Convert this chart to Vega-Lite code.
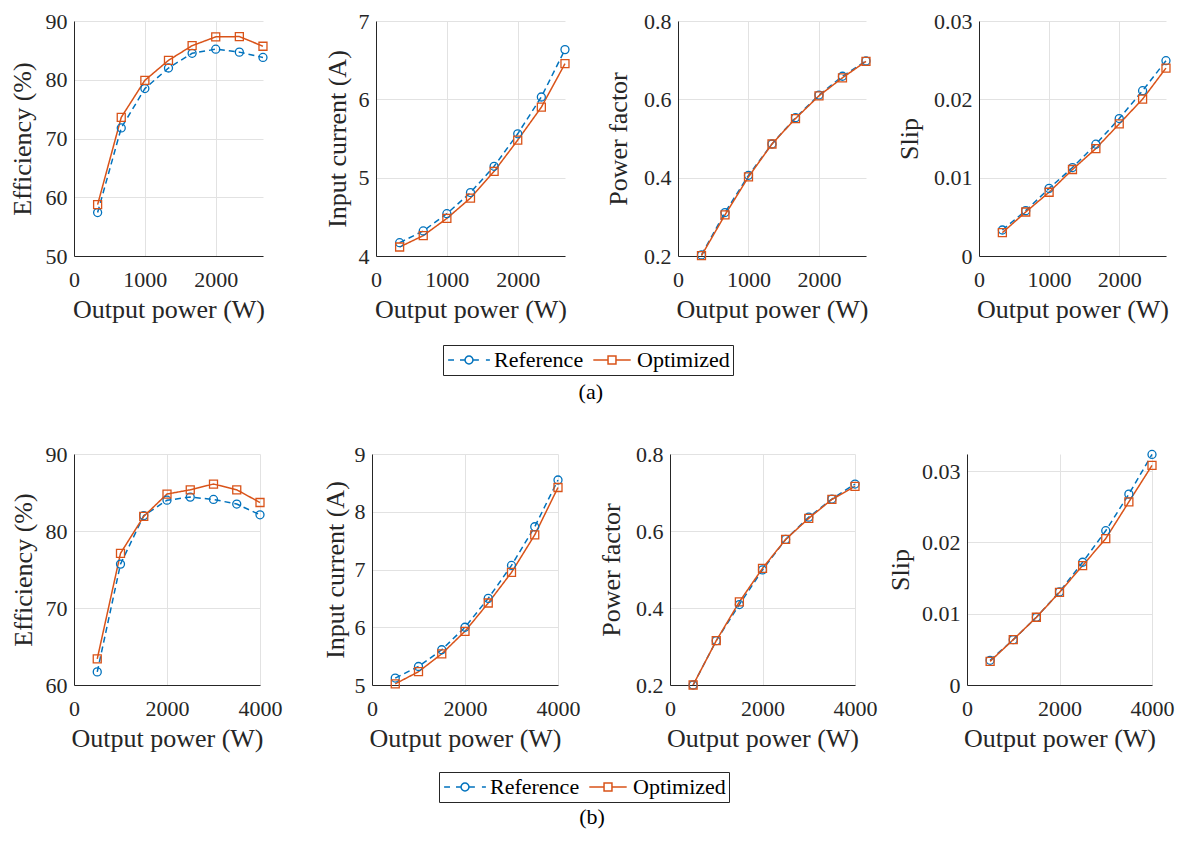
{
"$schema":"https://vega.github.io/schema/vega-lite/v6.json",
"padding":{"left":9,"top":10,"right":4,"bottom":4},
"background":"white",
"datasets":{
"eff_a":[{"P":333.3,"v":57.4,"s":"Reference"},{"P":666.7,"v":71.8,"s":"Reference"},{"P":1000,"v":78.5,"s":"Reference"},{"P":1333.3,"v":82.0,"s":"Reference"},{"P":1666.7,"v":84.5,"s":"Reference"},{"P":2000,"v":85.2,"s":"Reference"},{"P":2333.3,"v":84.7,"s":"Reference"},{"P":2666.7,"v":83.8,"s":"Reference"},
{"P":333.3,"v":58.75,"s":"Optimized"},{"P":666.7,"v":73.6,"s":"Optimized"},{"P":1000,"v":79.9,"s":"Optimized"},{"P":1333.3,"v":83.3,"s":"Optimized"},{"P":1666.7,"v":85.8,"s":"Optimized"},{"P":2000,"v":87.3,"s":"Optimized"},{"P":2333.3,"v":87.35,"s":"Optimized"},{"P":2666.7,"v":85.7,"s":"Optimized"}],
"cur_a":[{"P":333.3,"v":4.17,"s":"Reference"},{"P":666.7,"v":4.32,"s":"Reference"},{"P":1000,"v":4.54,"s":"Reference"},{"P":1333.3,"v":4.81,"s":"Reference"},{"P":1666.7,"v":5.145,"s":"Reference"},{"P":2000,"v":5.56,"s":"Reference"},{"P":2333.3,"v":6.03,"s":"Reference"},{"P":2666.7,"v":6.635,"s":"Reference"},
{"P":333.3,"v":4.115,"s":"Optimized"},{"P":666.7,"v":4.26,"s":"Optimized"},{"P":1000,"v":4.48,"s":"Optimized"},{"P":1333.3,"v":4.74,"s":"Optimized"},{"P":1666.7,"v":5.08,"s":"Optimized"},{"P":2000,"v":5.48,"s":"Optimized"},{"P":2333.3,"v":5.90,"s":"Optimized"},{"P":2666.7,"v":6.455,"s":"Optimized"}],
"pf_a":[{"P":333.3,"v":0.2026,"s":"Reference"},{"P":666.7,"v":0.311,"s":"Reference"},{"P":1000,"v":0.406,"s":"Reference"},{"P":1333.3,"v":0.486,"s":"Reference"},{"P":1666.7,"v":0.553,"s":"Reference"},{"P":2000,"v":0.611,"s":"Reference"},{"P":2333.3,"v":0.659,"s":"Reference"},{"P":2666.7,"v":0.698,"s":"Reference"},
{"P":333.3,"v":0.201,"s":"Optimized"},{"P":666.7,"v":0.305,"s":"Optimized"},{"P":1000,"v":0.402,"s":"Optimized"},{"P":1333.3,"v":0.486,"s":"Optimized"},{"P":1666.7,"v":0.551,"s":"Optimized"},{"P":2000,"v":0.609,"s":"Optimized"},{"P":2333.3,"v":0.655,"s":"Optimized"},{"P":2666.7,"v":0.697,"s":"Optimized"}],
"slip_a":[{"P":333.3,"v":0.00332,"s":"Reference"},{"P":666.7,"v":0.00579,"s":"Reference"},{"P":1000,"v":0.00863,"s":"Reference"},{"P":1333.3,"v":0.01129,"s":"Reference"},{"P":1666.7,"v":0.01427,"s":"Reference"},{"P":2000,"v":0.01755,"s":"Reference"},{"P":2333.3,"v":0.0211,"s":"Reference"},{"P":2666.7,"v":0.02493,"s":"Reference"},
{"P":333.3,"v":0.00298,"s":"Optimized"},{"P":666.7,"v":0.00562,"s":"Optimized"},{"P":1000,"v":0.00814,"s":"Optimized"},{"P":1333.3,"v":0.01104,"s":"Optimized"},{"P":1666.7,"v":0.01372,"s":"Optimized"},{"P":2000,"v":0.01687,"s":"Optimized"},{"P":2333.3,"v":0.02003,"s":"Optimized"},{"P":2666.7,"v":0.02399,"s":"Optimized"}],
"eff_b":[{"P":500,"v":61.7,"s":"Reference"},{"P":1000,"v":75.7,"s":"Reference"},{"P":1500,"v":82.0,"s":"Reference"},{"P":2000,"v":84.0,"s":"Reference"},{"P":2500,"v":84.4,"s":"Reference"},{"P":3000,"v":84.1,"s":"Reference"},{"P":3500,"v":83.5,"s":"Reference"},{"P":4000,"v":82.1,"s":"Reference"},
{"P":500,"v":63.4,"s":"Optimized"},{"P":1000,"v":77.1,"s":"Optimized"},{"P":1500,"v":81.9,"s":"Optimized"},{"P":2000,"v":84.8,"s":"Optimized"},{"P":2500,"v":85.35,"s":"Optimized"},{"P":3000,"v":86.1,"s":"Optimized"},{"P":3500,"v":85.35,"s":"Optimized"},{"P":4000,"v":83.7,"s":"Optimized"}],
"cur_b":[{"P":500,"v":5.12,"s":"Reference"},{"P":1000,"v":5.32,"s":"Reference"},{"P":1500,"v":5.61,"s":"Reference"},{"P":2000,"v":6.0,"s":"Reference"},{"P":2500,"v":6.5,"s":"Reference"},{"P":3000,"v":7.07,"s":"Reference"},{"P":3500,"v":7.74,"s":"Reference"},{"P":4000,"v":8.55,"s":"Reference"},
{"P":500,"v":5.02,"s":"Optimized"},{"P":1000,"v":5.23,"s":"Optimized"},{"P":1500,"v":5.54,"s":"Optimized"},{"P":2000,"v":5.93,"s":"Optimized"},{"P":2500,"v":6.42,"s":"Optimized"},{"P":3000,"v":6.95,"s":"Optimized"},{"P":3500,"v":7.6,"s":"Optimized"},{"P":4000,"v":8.42,"s":"Optimized"}],
"pf_b":[{"P":500,"v":0.2,"s":"Reference"},{"P":1000,"v":0.315,"s":"Reference"},{"P":1500,"v":0.409,"s":"Reference"},{"P":2000,"v":0.499,"s":"Reference"},{"P":2500,"v":0.578,"s":"Reference"},{"P":3000,"v":0.636,"s":"Reference"},{"P":3500,"v":0.683,"s":"Reference"},{"P":4000,"v":0.722,"s":"Reference"},
{"P":500,"v":0.2,"s":"Optimized"},{"P":1000,"v":0.315,"s":"Optimized"},{"P":1500,"v":0.416,"s":"Optimized"},{"P":2000,"v":0.503,"s":"Optimized"},{"P":2500,"v":0.578,"s":"Optimized"},{"P":3000,"v":0.633,"s":"Optimized"},{"P":3500,"v":0.682,"s":"Optimized"},{"P":4000,"v":0.716,"s":"Optimized"}],
"slip_b":[{"P":500,"v":0.00346,"s":"Reference"},{"P":1000,"v":0.00636,"s":"Reference"},{"P":1500,"v":0.00949,"s":"Reference"},{"P":2000,"v":0.01306,"s":"Reference"},{"P":2500,"v":0.01722,"s":"Reference"},{"P":3000,"v":0.02164,"s":"Reference"},{"P":3500,"v":0.02677,"s":"Reference"},{"P":4000,"v":0.03234,"s":"Reference"},
{"P":500,"v":0.00332,"s":"Optimized"},{"P":1000,"v":0.00636,"s":"Optimized"},{"P":1500,"v":0.0095,"s":"Optimized"},{"P":2000,"v":0.0130,"s":"Optimized"},{"P":2500,"v":0.01675,"s":"Optimized"},{"P":3000,"v":0.02054,"s":"Optimized"},{"P":3500,"v":0.02569,"s":"Optimized"},{"P":4000,"v":0.0308,"s":"Optimized"}]
},
"vconcat":[
{"hconcat":[
 {"width":189,"height":235,"data":{"name":"eff_a"},
  "encoding":{"x":{"field":"P","type":"quantitative","scale":{"domain":[0,2667],"nice":false,"zero":false},"axis":{"values":[0,1000,2000],"format":"d","title":"Output power (W)"}},
   "y":{"field":"v","type":"quantitative","scale":{"domain":[50,90],"nice":false,"zero":false},"axis":{"values":[50,60,70,80,90],"format":"~f","title":"Efficiency (%)","titlePadding":10}},
   "color":{"field":"s","type":"nominal","scale":{"domain":["Reference","Optimized"],"range":["#0072BD","#D95319"]},"legend":null}},
  "layer":[
   {"mark":{"type":"line","strokeWidth":1.5},"encoding":{"strokeDash":{"field":"s","type":"nominal","scale":{"domain":["Reference","Optimized"],"range":[[6,4],[1,0]]},"legend":null}}},
   {"mark":{"type":"point","filled":false,"size":64,"strokeWidth":1.3,"opacity":1},"encoding":{"shape":{"field":"s","type":"nominal","scale":{"domain":["Reference","Optimized"],"range":["circle","square"]},"legend":null}}}]},
 {"width":189,"height":235,"data":{"name":"cur_a"},
  "encoding":{"x":{"field":"P","type":"quantitative","scale":{"domain":[0,2667],"nice":false,"zero":false},"axis":{"values":[0,1000,2000],"format":"d","title":"Output power (W)"}},
   "y":{"field":"v","type":"quantitative","scale":{"domain":[4,7],"nice":false,"zero":false},"axis":{"values":[4,5,6,7],"format":"~f","title":"Input current (A)","titlePadding":8}},
   "color":{"field":"s","type":"nominal","scale":{"domain":["Reference","Optimized"],"range":["#0072BD","#D95319"]},
    "legend":{"orient":"none","legendX":67,"legendY":324,"direction":"horizontal","title":null,"strokeColor":"#262626","fillColor":"white","padding":3,
     "labelFontSize":22,"labelColor":"black","labelFont":"Liberation Serif","symbolSize":1936,"symbolStrokeWidth":1.5,"clipHeight":24,"labelOffset":2,"columnPadding":5,
     "encode":{"symbols":{"update":{"shape":[{"test":"datum.value === 'Reference'","value":"M-0.95,0L-0.68,0M-0.41,0L-0.18,0M0.18,0A0.18,0.18 0 1,1 -0.18,0A0.18,0.18 0 1,1 0.18,0M0.18,0L0.45,0M0.77,0L0.95,0"},{"value":"M-0.85,0L-0.18,0M0.18,0L0.85,0M-0.18,-0.18L0.18,-0.18L0.18,0.18L-0.18,0.18Z"}],"fill":{"value":"transparent"},"strokeDash":{"value":[]}}}}}}},
  "layer":[
   {"mark":{"type":"line","strokeWidth":1.5},"encoding":{"strokeDash":{"field":"s","type":"nominal","scale":{"domain":["Reference","Optimized"],"range":[[6,4],[1,0]]},"legend":null}}},
   {"mark":{"type":"point","filled":false,"size":64,"strokeWidth":1.3,"opacity":1},"encoding":{"shape":{"field":"s","type":"nominal","scale":{"domain":["Reference","Optimized"],"range":["circle","square"]},"legend":null}}}]},
 {"width":188,"height":235,"data":{"name":"pf_a"},
  "encoding":{"x":{"field":"P","type":"quantitative","scale":{"domain":[0,2667],"nice":false,"zero":false},"axis":{"values":[0,1000,2000],"format":"d","title":"Output power (W)"}},
   "y":{"field":"v","type":"quantitative","scale":{"domain":[0.2,0.8],"nice":false,"zero":false},"axis":{"values":[0.2,0.4,0.6,0.8],"format":"~f","title":"Power factor","titlePadding":12}},
   "color":{"field":"s","type":"nominal","scale":{"domain":["Reference","Optimized"],"range":["#0072BD","#D95319"]},"legend":null}},
  "layer":[
   {"mark":{"type":"line","strokeWidth":1.5},"encoding":{"strokeDash":{"field":"s","type":"nominal","scale":{"domain":["Reference","Optimized"],"range":[[6,4],[1,0]]},"legend":null}}},
   {"mark":{"type":"point","filled":false,"size":64,"strokeWidth":1.3,"opacity":1},"encoding":{"shape":{"field":"s","type":"nominal","scale":{"domain":["Reference","Optimized"],"range":["circle","square"]},"legend":null}}}]},
 {"width":187,"height":235,"data":{"name":"slip_a"},
  "encoding":{"x":{"field":"P","type":"quantitative","scale":{"domain":[0,2667],"nice":false,"zero":false},"axis":{"values":[0,1000,2000],"format":"d","title":"Output power (W)"}},
   "y":{"field":"v","type":"quantitative","scale":{"domain":[0,0.03],"nice":false,"zero":false},"axis":{"values":[0,0.01,0.02,0.03],"format":"~f","title":"Slip","titlePadding":11}},
   "color":{"field":"s","type":"nominal","scale":{"domain":["Reference","Optimized"],"range":["#0072BD","#D95319"]},"legend":null}},
  "layer":[
   {"mark":{"type":"line","strokeWidth":1.5},"encoding":{"strokeDash":{"field":"s","type":"nominal","scale":{"domain":["Reference","Optimized"],"range":[[6,4],[1,0]]},"legend":null}}},
   {"mark":{"type":"point","filled":false,"size":64,"strokeWidth":1.3,"opacity":1},"encoding":{"shape":{"field":"s","type":"nominal","scale":{"domain":["Reference","Optimized"],"range":["circle","square"]},"legend":null}}}]}
 ],
 "spacing":113,"bounds":"flush",
 "resolve":{"legend":{"color":"independent"}},
 "title":{"text":"(a)","orient":"bottom","anchor":"middle","frame":"bounds","offset":6}
},
{"hconcat":[
 {"width":186,"height":231,"data":{"name":"eff_b"},
  "encoding":{"x":{"field":"P","type":"quantitative","scale":{"domain":[0,4000],"nice":false,"zero":false},"axis":{"values":[0,2000,4000],"format":"d","title":"Output power (W)"}},
   "y":{"field":"v","type":"quantitative","scale":{"domain":[60,90],"nice":false,"zero":false},"axis":{"values":[60,70,80,90],"format":"~f","title":"Efficiency (%)","titlePadding":9}},
   "color":{"field":"s","type":"nominal","scale":{"domain":["Reference","Optimized"],"range":["#0072BD","#D95319"]},"legend":null}},
  "layer":[
   {"mark":{"type":"line","strokeWidth":1.5},"encoding":{"strokeDash":{"field":"s","type":"nominal","scale":{"domain":["Reference","Optimized"],"range":[[6,4],[1,0]]},"legend":null}}},
   {"mark":{"type":"point","filled":false,"size":64,"strokeWidth":1.3,"opacity":1},"encoding":{"shape":{"field":"s","type":"nominal","scale":{"domain":["Reference","Optimized"],"range":["circle","square"]},"legend":null}}}]},
 {"width":186,"height":231,"data":{"name":"cur_b"},
  "encoding":{"x":{"field":"P","type":"quantitative","scale":{"domain":[0,4000],"nice":false,"zero":false},"axis":{"values":[0,2000,4000],"format":"d","title":"Output power (W)"}},
   "y":{"field":"v","type":"quantitative","scale":{"domain":[5,9],"nice":false,"zero":false},"axis":{"values":[5,6,7,8,9],"format":"~f","title":"Input current (A)","titlePadding":6}},
   "color":{"field":"s","type":"nominal","scale":{"domain":["Reference","Optimized"],"range":["#0072BD","#D95319"]},
    "legend":{"orient":"none","legendX":67,"legendY":318,"direction":"horizontal","title":null,"strokeColor":"#262626","fillColor":"white","padding":3,
     "labelFontSize":22,"labelColor":"black","labelFont":"Liberation Serif","symbolSize":1936,"symbolStrokeWidth":1.5,"clipHeight":24,"labelOffset":2,"columnPadding":5,
     "encode":{"symbols":{"update":{"shape":[{"test":"datum.value === 'Reference'","value":"M-0.95,0L-0.68,0M-0.41,0L-0.18,0M0.18,0A0.18,0.18 0 1,1 -0.18,0A0.18,0.18 0 1,1 0.18,0M0.18,0L0.45,0M0.77,0L0.95,0"},{"value":"M-0.85,0L-0.18,0M0.18,0L0.85,0M-0.18,-0.18L0.18,-0.18L0.18,0.18L-0.18,0.18Z"}],"fill":{"value":"transparent"},"strokeDash":{"value":[]}}}}}}},
  "layer":[
   {"mark":{"type":"line","strokeWidth":1.5},"encoding":{"strokeDash":{"field":"s","type":"nominal","scale":{"domain":["Reference","Optimized"],"range":[[6,4],[1,0]]},"legend":null}}},
   {"mark":{"type":"point","filled":false,"size":64,"strokeWidth":1.3,"opacity":1},"encoding":{"shape":{"field":"s","type":"nominal","scale":{"domain":["Reference","Optimized"],"range":["circle","square"]},"legend":null}}}]},
 {"width":185,"height":231,"data":{"name":"pf_b"},
  "encoding":{"x":{"field":"P","type":"quantitative","scale":{"domain":[0,4000],"nice":false,"zero":false},"axis":{"values":[0,2000,4000],"format":"d","title":"Output power (W)"}},
   "y":{"field":"v","type":"quantitative","scale":{"domain":[0.2,0.8],"nice":false,"zero":false},"axis":{"values":[0.2,0.4,0.6,0.8],"format":"~f","title":"Power factor","titlePadding":11}},
   "color":{"field":"s","type":"nominal","scale":{"domain":["Reference","Optimized"],"range":["#0072BD","#D95319"]},"legend":null}},
  "layer":[
   {"mark":{"type":"line","strokeWidth":1.5},"encoding":{"strokeDash":{"field":"s","type":"nominal","scale":{"domain":["Reference","Optimized"],"range":[[6,4],[1,0]]},"legend":null}}},
   {"mark":{"type":"point","filled":false,"size":64,"strokeWidth":1.3,"opacity":1},"encoding":{"shape":{"field":"s","type":"nominal","scale":{"domain":["Reference","Optimized"],"range":["circle","square"]},"legend":null}}}]},
 {"width":185,"height":231,"data":{"name":"slip_b"},
  "encoding":{"x":{"field":"P","type":"quantitative","scale":{"domain":[0,4000],"nice":false,"zero":false},"axis":{"values":[0,2000,4000],"format":"d","title":"Output power (W)"}},
   "y":{"field":"v","type":"quantitative","scale":{"domain":[0,0.0324],"nice":false,"zero":false},"axis":{"values":[0,0.01,0.02,0.03],"format":"~f","title":"Slip","titlePadding":8}},
   "color":{"field":"s","type":"nominal","scale":{"domain":["Reference","Optimized"],"range":["#0072BD","#D95319"]},"legend":null}},
  "layer":[
   {"mark":{"type":"line","strokeWidth":1.5},"encoding":{"strokeDash":{"field":"s","type":"nominal","scale":{"domain":["Reference","Optimized"],"range":[[6,4],[1,0]]},"legend":null}}},
   {"mark":{"type":"point","filled":false,"size":64,"strokeWidth":1.3,"opacity":1},"encoding":{"shape":{"field":"s","type":"nominal","scale":{"domain":["Reference","Optimized"],"range":["circle","square"]},"legend":null}}}]}
 ],
 "spacing":112,"bounds":"flush",
 "resolve":{"legend":{"color":"independent"}},
 "title":{"text":"(b)","orient":"bottom","anchor":"middle","frame":"bounds","offset":4}
}
],
"spacing":40,
"resolve":{"legend":{"color":"independent"}},
"config":{
 "font":"Liberation Serif",
 "view":{"stroke":null},
 "axis":{"labelFontSize":22,"titleFontSize":26,"titleFontWeight":"normal","labelColor":"#262626","titleColor":"#262626","domainColor":"#262626","domainWidth":1,"gridColor":"#e2e2e2","gridWidth":1,"ticks":false,"labelFlush":false,"labelOverlap":false,"labelBound":false,"labelFont":"Liberation Serif","titleFont":"Liberation Serif"},
 "axisX":{"labelPadding":13,"titlePadding":6,"labelAngle":0},
 "axisY":{"labelPadding":7},
 "title":{"font":"Liberation Serif","fontSize":22,"fontWeight":"normal","color":"black"}
}
}
